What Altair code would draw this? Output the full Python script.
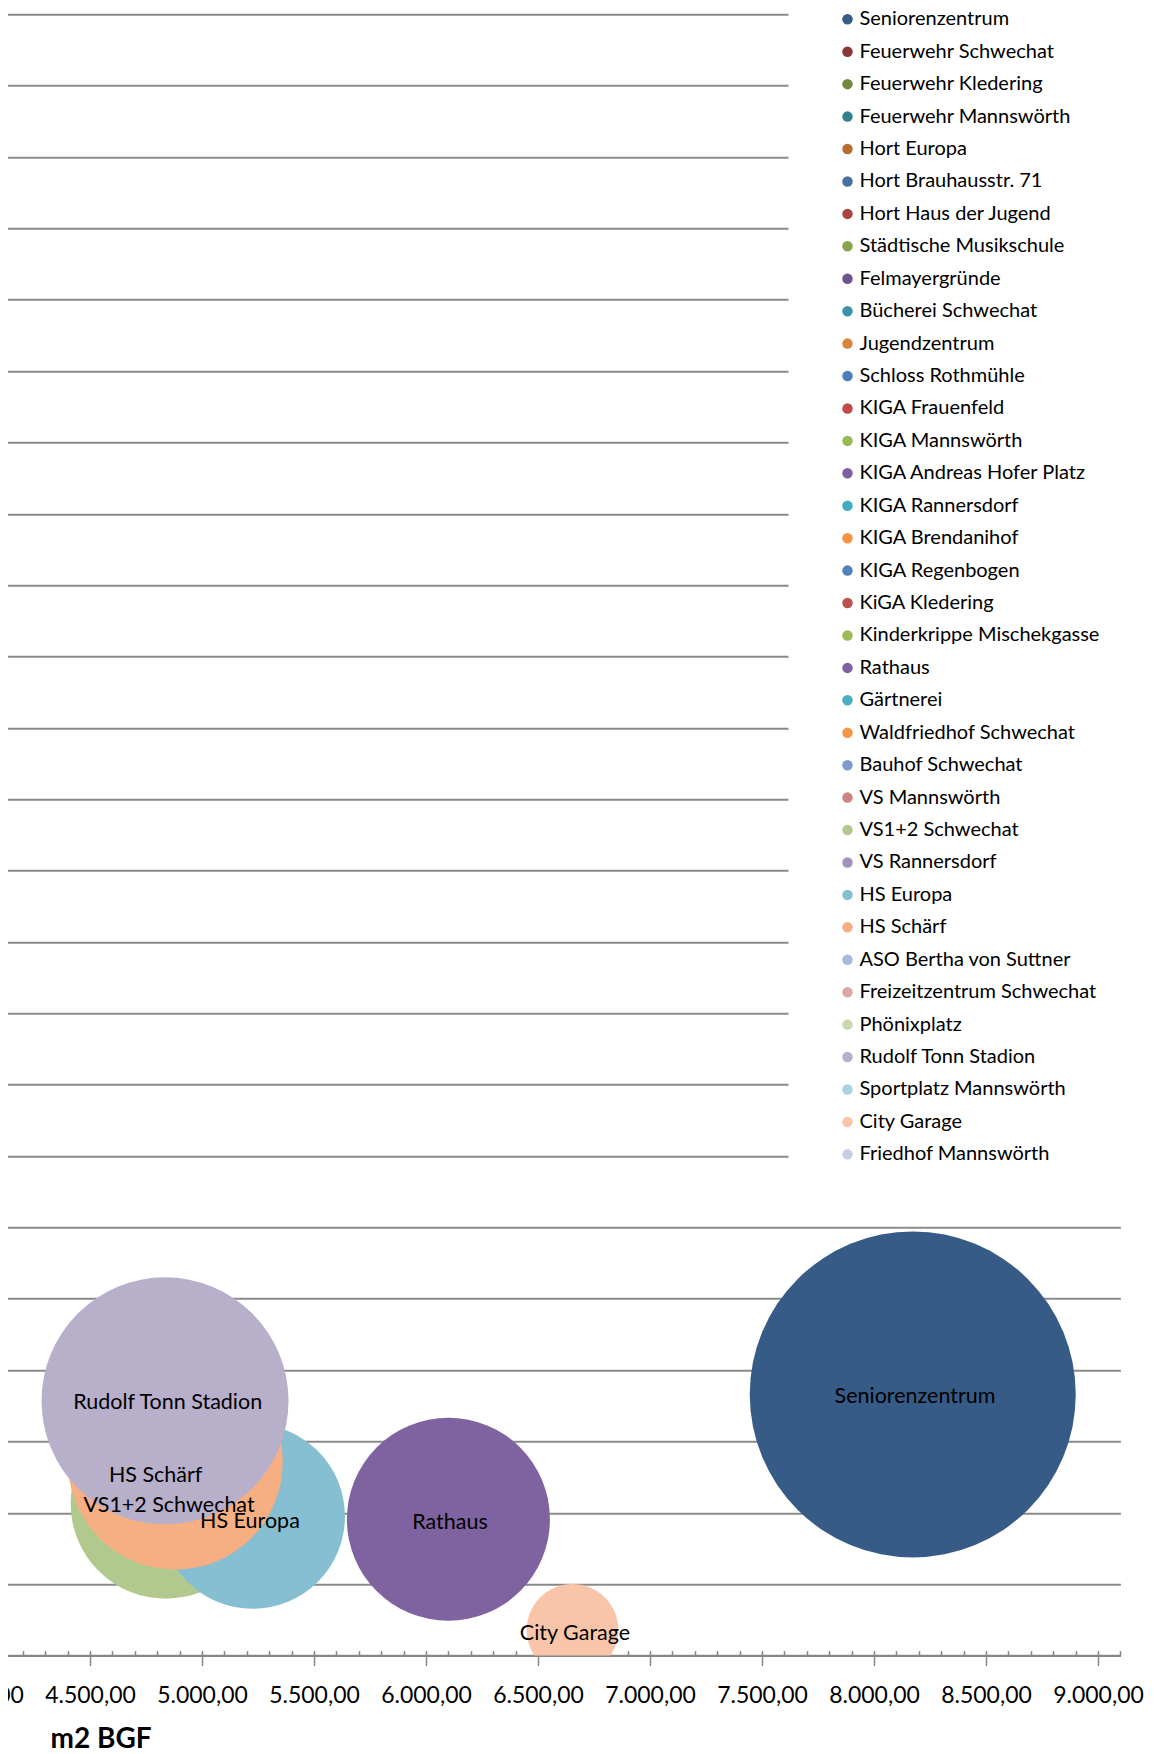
import altair as alt
import pandas as pd

# Legend series (all objects) and their colours
series_names = [
    "Seniorenzentrum", "Feuerwehr Schwechat", "Feuerwehr Kledering", "Feuerwehr Mannswörth",
    "Hort Europa", "Hort Brauhausstr. 71", "Hort Haus der Jugend", "Städtische Musikschule",
    "Felmayergründe", "Bücherei Schwechat", "Jugendzentrum", "Schloss Rothmühle",
    "KIGA Frauenfeld", "KIGA Mannswörth", "KIGA Andreas Hofer Platz", "KIGA Rannersdorf",
    "KIGA Brendanihof", "KIGA Regenbogen", "KiGA Kledering", "Kinderkrippe Mischekgasse",
    "Rathaus", "Gärtnerei", "Waldfriedhof Schwechat", "Bauhof Schwechat",
    "VS Mannswörth", "VS1+2 Schwechat", "VS Rannersdorf", "HS Europa",
    "HS Schärf", "ASO Bertha von Suttner", "Freizeitzentrum Schwechat", "Phönixplatz",
    "Rudolf Tonn Stadion", "Sportplatz Mannswörth", "City Garage", "Friedhof Mannswörth",
]
series_colors = [
    "#375B87", "#8C3836", "#71893F", "#34808F",
    "#B66D31", "#4A70A3", "#A94442", "#86A44A",
    "#6E548D", "#3C92AA", "#D8843D", "#4A7EBB",
    "#BE4B48", "#98B954", "#7D60A0", "#46AAC5",
    "#F69240", "#4F81BD", "#C0504D", "#9BBB59",
    "#7F63A1", "#4BACC6", "#F79646", "#7D9BCB",
    "#CF8381", "#B1C98C", "#A292BD", "#85BFD1",
    "#F6AF82", "#A7B8DA", "#D9A9A8", "#C7D9AC",
    "#B8AFCB", "#A8D3DF", "#F8C5A9", "#C5D0E5",
]

# Visible bubbles (drawing order)
bubble_names = ["Seniorenzentrum", "Rathaus", "VS1+2 Schwechat", "HS Europa",
                "HS Schärf", "Rudolf Tonn Stadion", "City Garage"]
bubble_m2 = [8173, 6100, 4838, 5226, 4881, 4835, 6654]
bubble_y = [36.6, 19.1, 21.3, 19.5, 27.1, 35.7, 3.6]
bubble_size = [100.0, 38.8, 34.0, 32.1, 43.4, 57.4, 7.9]
# data-label anchor positions
label_m2 = [8183, 6107, 4853, 5214, 4793, 4847, 6665]
label_y = [36.2, 18.6, 21.0, 18.7, 25.2, 35.4, 3.0]

x_ticks = [4000, 4500, 5000, 5500, 6000, 6500, 7000, 7500, 8000, 8500, 9000]
x_minor_ticks = list(range(4000, 9200, 100))
y_grid = list(range(0, 240, 10))

df = pd.DataFrame({
    "Objekt": bubble_names,
    "m2 BGF": bubble_m2,
    "Wert": bubble_y,
    "Größe": bubble_size,
    "label_x": label_m2,
    "label_y": label_y,
})

FONT = "Lato"
x_scale = alt.Scale(domain=[4000, 9100], nice=False, zero=False)
y_scale = alt.Scale(domain=[0, 230], nice=False, zero=True)

y_axis = alt.Axis(values=y_grid, grid=True, gridColor="#8a8a8a", gridWidth=1.9,
                  labels=False, ticks=False, domain=False, title=None)

label_expr = "replace(replace(replace(format(datum.value, ',.2f'), ',', '_'), '.', ','), '_', '.')"

bubbles = alt.Chart(df).mark_circle(opacity=1, clip=True).encode(
    x=alt.X("m2 BGF:Q", scale=x_scale,
            axis=alt.Axis(values=x_ticks, labelExpr=label_expr, grid=False,
                          domainColor="#878787", domainWidth=2,
                          tickColor="#878787", tickWidth=1.5, tickSize=10,
                          labelFont=FONT, labelFontSize=23, labelColor="black",
                          labelBaseline="alphabetic", labelPadding=37,
                          labelFlush=False, labelOverlap=False,
                          title="m2 BGF", titleFont=FONT, titleFontSize=28,
                          titleFontWeight="bold", titleColor="black",
                          titleAlign="left", titleBaseline="alphabetic",
                          titleX=72, titleY=92, titleAnchor="start")),
    y=alt.Y("Wert:Q", scale=y_scale, axis=y_axis),
    color=alt.Color("Objekt:N",
                    scale=alt.Scale(domain=series_names, range=series_colors),
                    sort=series_names,
                    legend=alt.Legend(title=None, orient="none", direction="vertical",
                                      columns=1, legendX=810.5, legendY=-54,
                                      fillColor="white", padding=49,
                                      symbolType="circle", symbolSize=110,
                                      symbolStrokeWidth=0, labelOffset=2,
                                      labelFont=FONT, labelFontSize=20,
                                      labelColor="black", labelLimit=400,
                                      rowPadding=12.43, symbolLimit=50)),
    size=alt.Size("Größe:Q", scale=alt.Scale(domain=[0, 100], range=[0, 106276], zero=True),
                  legend=None),
)

labels = alt.Chart(df).mark_text(font=FONT, fontSize=21.5, color="black",
                                 align="center", baseline="middle").encode(
    x=alt.X("label_x:Q", scale=x_scale,
            axis=alt.Axis(orient="bottom", values=x_minor_ticks, offset=-5,
                          tickSize=5, tickColor="#878787", tickWidth=1.5,
                          labels=False, domain=False, grid=False, title=None)),
    y=alt.Y("label_y:Q", scale=y_scale, axis=y_axis),
    text="Objekt:N",
)

chart = alt.layer(bubbles, labels).resolve_axis(x="independent").properties(
    width=1142.4,
    height=1641.3,
    autosize=alt.AutoSizeParams(type="none"),
    padding={"left": -30, "top": 6.3, "right": 24, "bottom": 100},
).configure_view(stroke=None)

chart.save("out.html", embed_options={"renderer": "svg", "actions": False})
